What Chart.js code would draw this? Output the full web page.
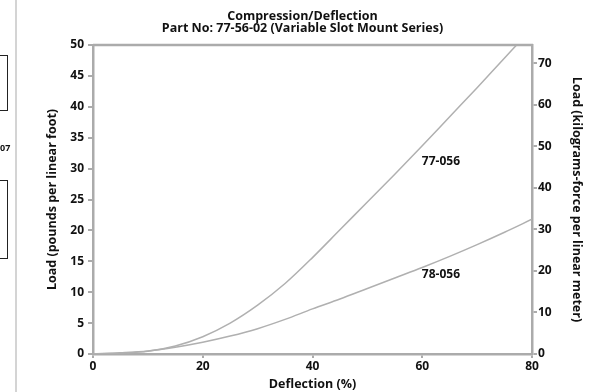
<!DOCTYPE html>
<html><head><meta charset="utf-8">
<script src="https://cdn.jsdelivr.net/npm/chart.js@4/dist/chart.umd.min.js"></script>
<style>
html,body{margin:0;padding:0;background:#fff;}
#wrap{position:relative;width:605px;height:392px;overflow:hidden;}
canvas{position:absolute;left:0;top:0;}
.art{position:absolute;box-sizing:border-box;}
</style></head><body>
<div id="wrap">
<canvas id="c" width="605" height="392"></canvas>
<div class="art" style="left:15px;top:0;width:2px;height:392px;background:#d4d4d4"></div>
<div class="art" style="left:-4px;top:55px;width:12px;height:56px;border:1.5px solid #222;"></div>
<div class="art" style="left:0;top:141px;font:bold 9px 'Open Sans';color:#111;">07</div>
<div class="art" style="left:-4px;top:180px;width:12px;height:79px;border:1.5px solid #222;"></div>
</div>
<script>
// ---- data ----
const deflection77 = [0, 5, 10, 15, 20, 25, 30, 35, 40, 45, 50, 55, 60, 65, 70, 75, 77.2];
const load77       = [0, 0.15, 0.45, 1.3, 2.8, 5.0, 7.9, 11.4, 15.6, 20.1, 24.6, 29.1, 33.7, 38.4, 43.1, 47.9, 50];
const deflection78 = [0, 5, 10, 15, 20, 25, 30, 35, 40, 45, 50, 55, 60, 65, 70, 75, 80];
const load78       = [0, 0.2, 0.5, 1.1, 1.9, 2.9, 4.1, 5.6, 7.3, 8.9, 10.6, 12.3, 14.0, 15.8, 17.7, 19.7, 21.8];
const seriesNames  = ['77-056', '78-056'];
const xTicks       = [0, 20, 40, 60, 80];
const leftTicks    = [0, 5, 10, 15, 20, 25, 30, 35, 40, 45, 50];
const rightTicks   = [0, 10, 20, 30, 40, 50, 60, 70];
const lbToKgf      = 1.48816; // lb/ft -> kgf/m
const titleLines   = ['Compression/Deflection', 'Part No: 77-56-02 (Variable Slot Mount Series)'];
// label anchor points (deflection, load)
const labelAt = [[63.4, 31.1], [63.4, 12.9]];

const toPts = (xs, ys) => xs.map((x, i) => ({x, y: ys[i]}));
const gray = '#ababab';
const lineGray = '#b0b0b0';
const FAM = "'Open Sans', sans-serif";
const tickFont = {family: FAM, size: 12, weight: 'bold'};
const axisTitleFont = {family: FAM, size: 12.5, weight: 'bold', lineHeight: 1.2};
const chartTitleFont = {family: FAM, size: 12.5, weight: 'bold', lineHeight: '12px'};

const framePlugin = {
  id: 'frame',
  afterDatasetsDraw(chart) {
    const {ctx, chartArea: a, scales} = chart;
    ctx.save();
    ctx.strokeStyle = gray;
    ctx.lineWidth = 2.5;
    ctx.beginPath();
    ctx.moveTo(a.left, a.top);
    ctx.lineTo(a.right + 1, a.top);
    ctx.stroke();
    ctx.fillStyle = '#111';
    ctx.font = "bold 12px 'Open Sans', sans-serif";
    ctx.textAlign = 'center';
    ctx.textBaseline = 'middle';
    seriesNames.forEach((n, i) => {
      ctx.fillText(n, scales.x.getPixelForValue(labelAt[i][0]), scales.y.getPixelForValue(labelAt[i][1]));
    });
    ctx.restore();
  }
};

new Chart(document.getElementById('c'), {
  type: 'scatter',
  data: {
    datasets: [
      {label: seriesNames[0], data: toPts(deflection77, load77)},
      {label: seriesNames[1], data: toPts(deflection78, load78)}
    ].map(d => Object.assign(d, {
      showLine: true, borderColor: lineGray, borderWidth: 1.5, pointRadius: 0,
      cubicInterpolationMode: 'monotone', xAxisID: 'x', yAxisID: 'y'
    }))
  },
  options: {
    responsive: false,
    animation: false,
    layout: {padding: 0},
    plugins: {
      legend: {display: false},
      tooltip: {enabled: false},
      title: {
        display: true, text: titleLines, color: '#111',
        font: chartTitleFont,
        padding: {top: 10, bottom: 11}
      }
    },
    scales: {
      x: {
        type: 'linear', min: 0, max: 80,
        afterBuildTicks: s => { s.ticks = xTicks.map(v => ({value: v})); },
        afterFit: s => { s.height = 38; },
        ticks: {color: '#111', font: tickFont, padding: 1},
        grid: {drawOnChartArea: false, tickLength: 4, color: gray, lineWidth: 2},
        border: {color: gray, width: 2.5},
        title: {display: true, text: 'Deflection (%)', color: '#111', font: axisTitleFont, padding: {top: 0, bottom: 0}}
      },
      y: {
        type: 'linear', position: 'left', min: 0, max: 50,
        afterBuildTicks: s => { s.ticks = leftTicks.map(v => ({value: v})); },
        afterFit: s => { s.width = 93; },
        ticks: {color: '#111', font: tickFont, padding: 4},
        grid: {drawOnChartArea: false, tickLength: 5, color: gray, lineWidth: 2},
        border: {color: gray, width: 2.5},
        title: {display: true, text: 'Load (pounds per linear foot)', color: '#111', font: axisTitleFont, padding: {top: 44.5, bottom: 0}}
      },
      y2: {
        type: 'linear', position: 'right', min: 0, max: 50 * lbToKgf,
        afterBuildTicks: s => { s.ticks = rightTicks.map(v => ({value: v})); },
        afterFit: s => { s.width = 73; },
        ticks: {color: '#111', font: tickFont, padding: 1},
        grid: {drawOnChartArea: false, tickLength: 5, color: gray, lineWidth: 2},
        border: {color: gray, width: 2.5},
        title: {display: true, text: 'Load (kilograms-force per linear meter)', color: '#111', font: axisTitleFont, padding: {top: 20.5, bottom: 0}}
      }
    }
  },
  plugins: [framePlugin]
});
</script>
</body></html>
